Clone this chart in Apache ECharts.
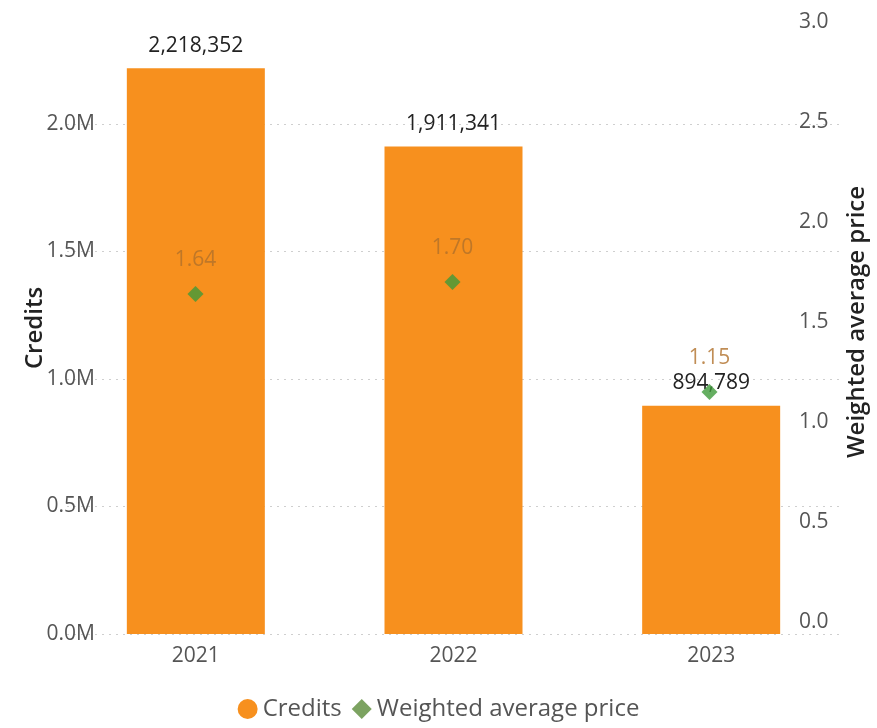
<!DOCTYPE html>
<html>
<head>
<meta charset="utf-8">
<script src="https://cdn.jsdelivr.net/npm/echarts@6/dist/echarts.min.js"></script>
<style>
  html, body { margin: 0; padding: 0; background: #ffffff; }
  #chart { width: 877px; height: 728px; }
</style>
</head>
<body>
<div id="chart"></div>
<script>
// Carbon credits issued per year and their weighted average price
const years = ['2021', '2022', '2023'];
const credits = [2218352, 1911341, 894789];
const avgPrice = [1.64, 1.70, 1.15];

const FONT = '"Segoe UI", "Open Sans", "Noto Sans", sans-serif';
const BAR_COLOR = '#F7901E';
const DIAMOND_COLOR = '#3F9A3A';

const chart = echarts.init(document.getElementById('chart'), null, { renderer: 'canvas' });

const fmtMillions = v => (v / 1e6).toFixed(1) + 'M';
const fmtThousands = v => v.toLocaleString('en-US');

chart.setOption({
  backgroundColor: '#ffffff',
  textStyle: { fontFamily: FONT },
  legend: {
    bottom: 2,
    left: 'center',
    itemWidth: 20,
    itemHeight: 20,
    itemGap: 10,
    textStyle: { fontFamily: FONT, fontSize: 24, color: '#555555' },
    data: [
      { name: 'Credits', icon: 'circle', itemStyle: { color: BAR_COLOR } },
      { name: 'Weighted average price', icon: 'diamond', itemStyle: { color: '#5B8C3A' } }
    ]
  },
  grid: [
    { left: 67, right: 37, top: 22, bottom: 94 },
    { left: 67, right: 37, top: 22, bottom: 106 }
  ],
  xAxis: [
    {
      type: 'category',
      gridIndex: 0,
      data: years,
      axisLine: { show: false },
      axisTick: { show: false },
      axisLabel: { fontFamily: FONT, fontSize: 21, color: '#555555', margin: 12 }
    },
    {
      type: 'category',
      gridIndex: 1,
      data: years,
      show: false
    }
  ],
  yAxis: [
    {
      type: 'value',
      gridIndex: 0,
      min: 0,
      max: 2400000,
      interval: 500000,
      offset: -36,
      name: 'Credits',
      nameLocation: 'middle',
      nameRotate: 90,
      nameGap: 56,
      nameMoveOverlap: false,
      nameTextStyle: { fontFamily: FONT, fontSize: 24, fontWeight: 600, color: '#222222' },
      axisLine: { show: false },
      axisTick: { show: false },
      axisLabel: {
        fontFamily: FONT, fontSize: 21, color: '#555555', margin: 8,
        showMaxLabel: false,
        formatter: fmtMillions
      },
      splitLine: {
        show: true,
        showMaxLine: false,
        lineStyle: { color: '#cfcfcf', width: 1, type: [2, 5] }
      }
    },
    {
      type: 'value',
      gridIndex: 1,
      position: 'right',
      min: 0,
      max: 3,
      interval: 0.5,
      offset: -47,
      name: 'Weighted average price',
      nameLocation: 'middle',
      nameRotate: 90,
      nameGap: 54,
      nameTextStyle: { fontFamily: FONT, fontSize: 24, fontWeight: 600, color: '#222222' },
      axisLine: { show: false },
      axisTick: { show: false },
      axisLabel: {
        fontFamily: FONT, fontSize: 21, color: '#555555', margin: 8,
        formatter: v => v.toFixed(1)
      },
      splitLine: { show: false }
    }
  ],
  series: [
    {
      name: 'Credits',
      type: 'bar',
      xAxisIndex: 0,
      yAxisIndex: 0,
      data: credits,
      barWidth: 138,
      itemStyle: { color: BAR_COLOR },
      label: {
        show: true,
        position: 'top',
        distance: 12,
        fontFamily: FONT,
        fontSize: 21,
        color: '#222222',
        formatter: p => fmtThousands(p.value)
      },
      z: 2
    },
    {
      name: 'Weighted average price',
      type: 'scatter',
      xAxisIndex: 1,
      yAxisIndex: 1,
      data: avgPrice,
      symbol: 'diamond',
      symbolSize: 16,
      itemStyle: { color: DIAMOND_COLOR },
      label: {
        show: true,
        position: 'top',
        distance: 15,
        fontFamily: FONT,
        fontSize: 21,
        color: '#B0702A',
        formatter: p => p.value.toFixed(2)
      },
      z: 5
    }
  ]
});
</script>
</body>
</html>
